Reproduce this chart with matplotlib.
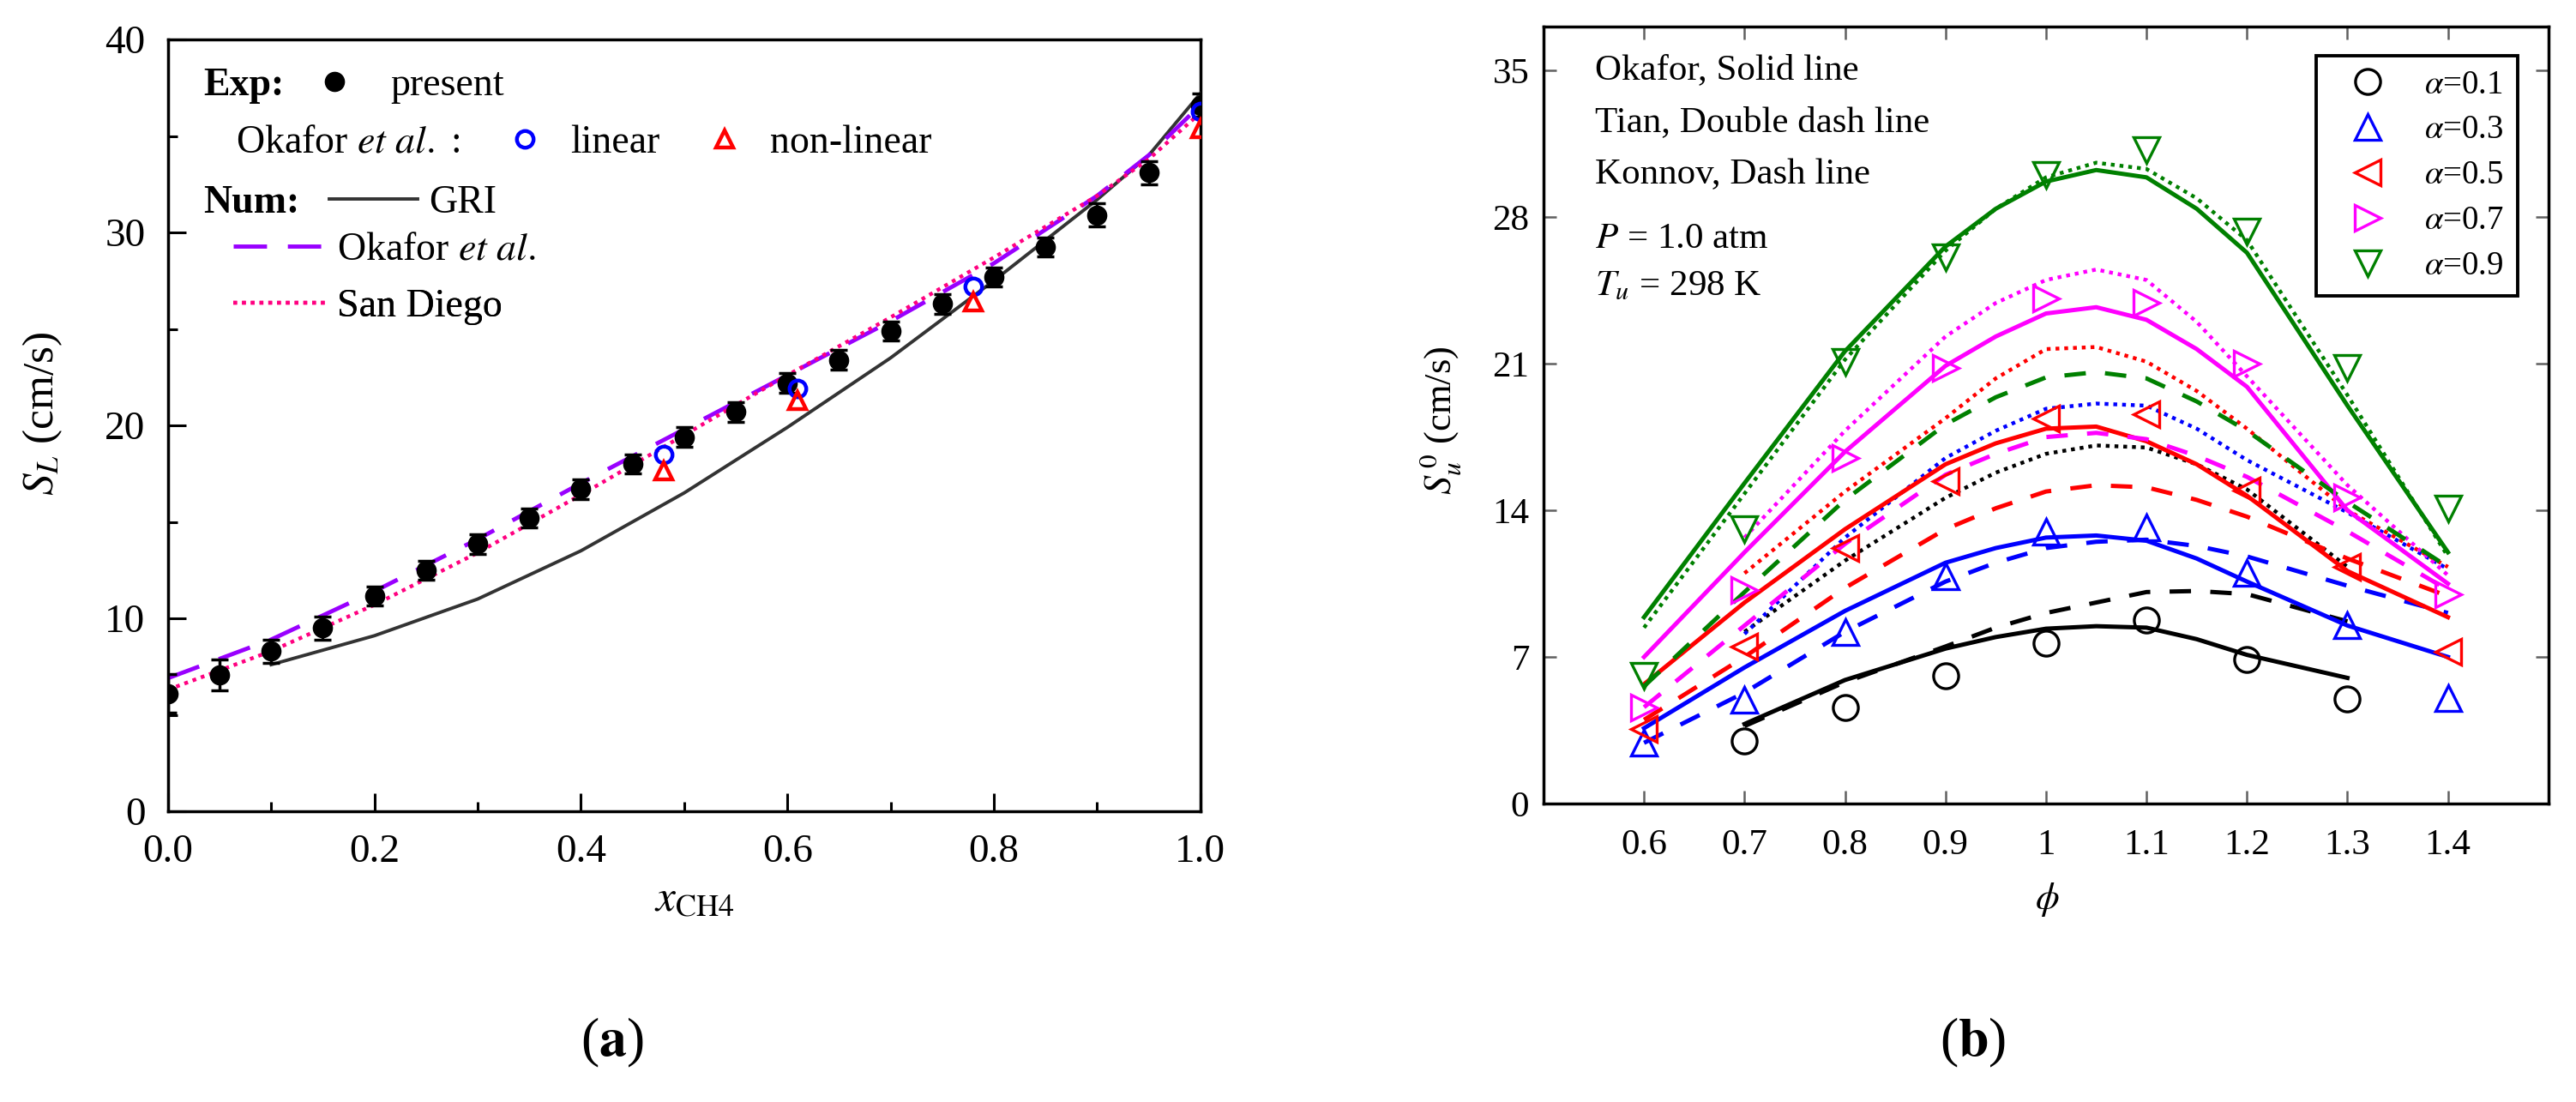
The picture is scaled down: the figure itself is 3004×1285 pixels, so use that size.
import numpy as np
import matplotlib
matplotlib.use('Agg')
import matplotlib.pyplot as plt
from matplotlib.ticker import MultipleLocator, FormatStrFormatter

plt.rcParams['font.family'] = ['Liberation Serif', 'DejaVu Serif']
plt.rcParams['mathtext.fontset'] = 'stix'

# ---- (a) laminar burning velocity vs CH4 fraction ----
x_exp = [0.0, 0.05, 0.10, 0.15, 0.20, 0.25, 0.30, 0.35, 0.40, 0.45, 0.50,
         0.55, 0.60, 0.65, 0.70, 0.75, 0.80, 0.85, 0.90, 0.95, 1.0]
s_exp = [6.1, 7.05, 8.3, 9.5, 11.15, 12.5, 13.85, 15.2, 16.7, 18.0, 19.4,
         20.7, 22.2, 23.4, 24.9, 26.3, 27.7, 29.25, 30.9, 33.1, 36.6]
s_err = [1.0, 0.8, 0.6, 0.6, 0.5, 0.5, 0.5, 0.5, 0.5, 0.5, 0.5,
         0.5, 0.5, 0.5, 0.5, 0.5, 0.5, 0.5, 0.6, 0.6, 0.6]

x_okafor_exp = [0.48, 0.61, 0.78, 1.0]
s_linear = [18.5, 21.9, 27.2, 36.25]
s_nonlinear = [17.65, 21.3, 26.4, 35.4]

x_num = [0.0, 0.1, 0.2, 0.3, 0.4, 0.5, 0.6, 0.7, 0.8, 0.9, 0.95, 1.0]
s_gri = [np.nan, 7.6, 9.1, 11.0, 13.5, 16.5, 19.9, 23.5, 27.5, 31.7, 34.0, 37.2]
s_okafor = [6.9, 8.9, 11.4, 14.1, 17.0, 19.8, 22.6, 25.4, 28.4, 31.9, 34.0, 36.6]
s_sandiego = [6.3, 8.3, 10.7, 13.4, 16.4, 19.5, 22.6, 25.6, 28.7, 31.9, 33.8, 36.2]

# ---- (b) S_u^0 vs equivalence ratio ----
alphas = ['0.1', '0.3', '0.5', '0.7', '0.9']
colors = ['black', '#0000ff', '#ff0000', '#ff00ff', '#008000']
markers = ['o', '^', '<', '>', 'v']

phi_exp_01 = [0.7, 0.8, 0.9, 1.0, 1.1, 1.2, 1.3]
phi_exp = [0.6, 0.7, 0.8, 0.9, 1.0, 1.1, 1.2, 1.3, 1.4]
exp_su = [
    [3.0, 4.6, 6.1, 7.65, 8.75, 6.9, 5.0],
    [2.9, 4.95, 8.2, 10.85, 13.0, 13.2, 11.0, 8.5, 5.05],
    [3.55, 7.5, 12.2, 15.4, 18.4, 18.6, 14.95, 11.3, 7.25],
    [4.6, 10.2, 16.5, 20.8, 24.1, 23.9, 21.0, 14.6, 10.0],
    [6.1, 13.1, 21.1, 26.1, 30.0, 31.2, 27.3, 20.8, 14.1],
]

phi_a = [0.6, 0.7, 0.8, 0.9, 0.95, 1.0, 1.05, 1.1, 1.15, 1.2, 1.3, 1.4]
phi_b = [0.7, 0.8, 0.9, 0.95, 1.0, 1.05, 1.1, 1.15, 1.2, 1.3, 1.4]
phi_c = [0.7, 0.8, 0.9, 0.95, 1.0, 1.05, 1.1, 1.15, 1.2, 1.3]

# Okafor (solid)
okafor_phi = [phi_c, phi_a, phi_a, phi_a, phi_a]
okafor_su = [
    [3.8, 5.9, 7.4, 7.95, 8.35, 8.47, 8.4, 7.85, 7.1, 6.0],
    [3.6, 6.5, 9.2, 11.5, 12.2, 12.7, 12.8, 12.55, 11.7, 10.6, 8.5, 7.0],
    [5.7, 9.6, 13.1, 16.2, 17.2, 17.9, 18.0, 17.3, 16.2, 14.7, 11.1, 8.9],
    [7.0, 12.0, 16.8, 20.9, 22.3, 23.4, 23.7, 23.1, 21.7, 19.9, 14.0, 10.5],
    [8.9, 15.3, 21.6, 26.6, 28.4, 29.7, 30.25, 29.9, 28.4, 26.3, 19.0, 12.0],
]
# Tian (double dash -> dotted)
tian_phi = [phi_c, phi_b, phi_b, phi_b, phi_a]
tian_su = [
    [8.2, 11.6, 14.6, 15.8, 16.7, 17.1, 17.0, 16.2, 15.0, 11.3],
    [8.1, 12.7, 16.5, 17.8, 18.85, 19.1, 19.0, 17.9, 16.4, 13.9, 11.2],
    [11.0, 14.9, 18.4, 20.3, 21.7, 21.8, 21.1, 19.7, 17.9, 14.0, 11.3],
    [12.7, 17.8, 22.3, 23.9, 25.0, 25.5, 25.0, 23.0, 20.4, 15.2, 10.9],
    [8.4, 14.8, 21.2, 26.4, 28.4, 29.9, 30.6, 30.3, 28.9, 26.9, 19.5, 11.8],
]
# Konnov (dash)
konnov_phi = [phi_c, phi_a, phi_a, phi_a, phi_a]
konnov_su = [
    [3.7, 5.8, 7.5, 8.4, 9.1, 9.6, 10.1, 10.15, 10.0, 8.7],
    [2.9, 5.3, 8.2, 10.6, 11.5, 12.2, 12.5, 12.6, 12.3, 11.8, 10.4, 9.1],
    [4.0, 7.0, 10.3, 13.1, 14.1, 14.9, 15.2, 15.1, 14.5, 13.7, 11.7, 9.9],
    [4.6, 8.5, 12.4, 15.7, 16.7, 17.5, 17.7, 17.4, 16.6, 15.6, 13.0, 10.2],
    [5.6, 10.1, 14.5, 18.1, 19.4, 20.35, 20.6, 20.3, 19.2, 17.8, 14.4, 11.3],
]

phi_ticks = [0.6, 0.7, 0.8, 0.9, 1.0, 1.1, 1.2, 1.3, 1.4]
phi_ticklabels = ['0.6', '0.7', '0.8', '0.9', '1', '1.1', '1.2', '1.3', '1.4']
su_ticks = [0, 7, 14, 21, 28, 35]

fig = plt.figure(figsize=(30.04, 12.85), dpi=100)

# ================= panel (a) =================
ax1 = fig.add_axes([0.0652, 0.2638, 0.4008, 0.7004])
eb = ax1.errorbar(x_exp, s_exp, yerr=s_err, fmt='o', color='black', ms=16,
                  capsize=7, elinewidth=2.5, capthick=2.5, zorder=6)
lin_pts, = ax1.plot(x_okafor_exp, s_linear, 'o', ms=14, mfc='none',
                    mec='#0000ff', mew=3.2, zorder=7)
nl_pts, = ax1.plot(x_okafor_exp, s_nonlinear, '^', ms=15, mfc='none',
                   mec='#ff0000', mew=3.2, zorder=7)
gri_line, = ax1.plot(x_num, s_gri, '-', color='#333333', lw=2.8, zorder=3)
oka_line, = ax1.plot(x_num, s_okafor, color='#9900ff', lw=3.5,
                     dashes=(8, 5), zorder=4)
sd_line, = ax1.plot(x_num, s_sandiego, color='#ff0080', lw=3.2,
                    linestyle=(0, (1, 1.3)), zorder=4)

ax1.set_xlim(0, 1.0)
ax1.set_ylim(0, 40)
ax1.xaxis.set_major_locator(MultipleLocator(0.2))
ax1.xaxis.set_minor_locator(MultipleLocator(0.1))
ax1.yaxis.set_major_locator(MultipleLocator(10))
ax1.yaxis.set_minor_locator(MultipleLocator(5))
ax1.xaxis.set_major_formatter(FormatStrFormatter('%.1f'))
ax1.tick_params(which='both', direction='in', top=False, right=False,
                width=2.2, labelsize=34)
ax1.tick_params(which='major', length=15)
ax1.tick_params(which='minor', length=8)
ax1.tick_params(axis='x', pad=19)
ax1.tick_params(axis='y', pad=19)
for sp in ax1.spines.values():
    sp.set_linewidth(2.5)

ax1.set_xlabel(r'$x_{\mathrm{CH4}}$', fontsize=37)
ax1.xaxis.set_label_coords(0.51, -0.09)
ax1.set_ylabel(r'$S_L$ (cm/s)', fontsize=37)
ax1.yaxis.set_label_coords(-0.10, 0.515)

fs_leg = 33


def row_legend(ax, handles, labels, x, y, hl, tp, ncol=1, cs=1.0):
    leg = ax.legend(handles, labels, loc='center left', bbox_to_anchor=(x, y),
                    frameon=False, borderpad=0, borderaxespad=0,
                    handlelength=hl, handletextpad=tp, ncol=ncol,
                    columnspacing=cs, fontsize=fs_leg, numpoints=1)
    ax.add_artist(leg)
    return leg


ax1.text(0.034, 0.94, 'Exp:', transform=ax1.transAxes, fontsize=fs_leg,
         fontweight='bold', va='center')
row_legend(ax1, [eb[0]], ['present'], 0.142, 0.94, 1.0, 0.92)
ax1.text(0.066, 0.866, r'Okafor $\mathit{et\ al.}$ :', transform=ax1.transAxes,
         fontsize=fs_leg, va='center')
row_legend(ax1, [lin_pts, nl_pts], ['linear', 'non-linear'], 0.3266, 0.866,
           1.0, 0.66, ncol=2, cs=1.14)
ax1.text(0.034, 0.788, 'Num:', transform=ax1.transAxes, fontsize=fs_leg,
         fontweight='bold', va='center')
row_legend(ax1, [gri_line], ['GRI'], 0.156, 0.788, 2.25, 0.28)
row_legend(ax1, [oka_line], [r'Okafor $\mathit{et\ al.}$'], 0.063, 0.727, 2.36, 0.28)
row_legend(ax1, [sd_line], ['San Diego'], 0.063, 0.654, 2.36, 0.28)

# ================= panel (b) =================
ax2 = fig.add_axes([0.5992, 0.2708, 0.3901, 0.7051])
mk_handles = []
for i in range(len(alphas)):
    c = colors[i]
    ax2.plot(okafor_phi[i], okafor_su[i], '-', color=c, lw=3.6, zorder=3)
    ax2.plot(tian_phi[i], tian_su[i], color=c, lw=3.2,
             linestyle=(0, (1, 1.3)), zorder=3)
    ax2.plot(konnov_phi[i], konnov_su[i], color=c, lw=3.6,
             dashes=(5, 4.5), zorder=3)
    px = phi_exp_01 if i == 0 else phi_exp
    h, = ax2.plot(px, exp_su[i], linestyle='none', marker=markers[i], ms=21,
                  mfc='none', mec=c, mew=2.4, zorder=5)
    mk_handles.append(h)

ax2.set_xlim(0.5, 1.5)
ax2.set_ylim(0, 37.1)
ax2.set_xticks(phi_ticks)
ax2.set_xticklabels(phi_ticklabels)
ax2.set_yticks(su_ticks)
ax2.tick_params(direction='in', top=True, right=True, length=11, width=1.8,
                color='#606060', labelsize=31)
ax2.tick_params(axis='x', pad=21)
ax2.tick_params(axis='y', pad=12)
for sp in ax2.spines.values():
    sp.set_linewidth(2.5)

ax2.set_xlabel(r'$\phi$', fontsize=32)
ax2.xaxis.set_label_coords(0.501, -0.099)
ax2.set_ylabel(r'$S_u^{\,\mathit{0}}$ (cm/s)', fontsize=32)
ax2.yaxis.set_label_coords(-0.08, 0.493)

leg = ax2.legend(mk_handles, [r'$\alpha$=' + a for a in alphas],
                 loc='upper right', bbox_to_anchor=(0.969, 0.9625),
                 borderaxespad=0, fontsize=28, fancybox=False,
                 edgecolor='black', framealpha=1, handlelength=2.3,
                 handletextpad=0.55, labelspacing=0.41, borderpad=0.4,
                 numpoints=1)
leg.get_frame().set_linewidth(2.8)

notes = ['Okafor, Solid line', 'Tian, Double dash line', 'Konnov, Dash line',
         r'$P$ = 1.0 atm', r'$T_u$ = 298 K']
note_y = [0.944, 0.876, 0.809, 0.727, 0.665]
for t, y in zip(notes, note_y):
    ax2.text(0.051, y, t, transform=ax2.transAxes, fontsize=31, va='center')

fig.text(0.2377, 0.0537, r'($\mathbf{a}$)', fontsize=46, ha='center', va='center')
fig.text(0.766, 0.0537, r'($\mathbf{b}$)', fontsize=46, ha='center', va='center')

fig.savefig('out.png', dpi=100)
